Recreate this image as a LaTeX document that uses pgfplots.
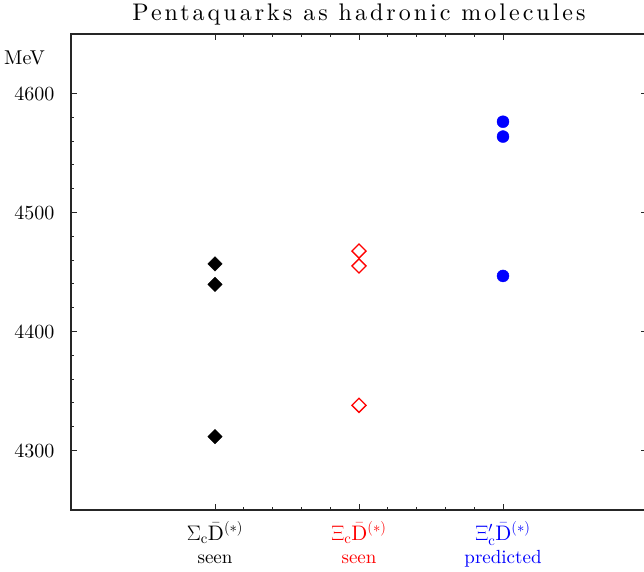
\RequirePackage{fix-cm}
\documentclass[border=0pt]{standalone}
\usepackage{fontspec}
\setmainfont{lmroman10-regular}[Extension=.otf]
\usepackage{pgfplots}
\pgfplotsset{compat=1.18}

\begin{document}
\begin{tikzpicture}
\begin{axis}[
  scale only axis, width=576pt, height=476pt,
  xmin=0, xmax=4, ymin=4250, ymax=4650,
  xtick={1,2,3}, minor x tick num=4,
  ytick={4300,4400,4500,4600}, minor y tick num=4,
  ytick pos=left,
  tick align=inside,
  major tick length=6pt, minor tick length=3pt,
  axis line style={black!85, line width=1.1pt},
  every tick/.append style={black!85, line width=0.9pt},
  /pgf/number format/assume math mode=true,
  /pgf/number format/1000 sep={},
  yticklabel style={font=\fontsize{20}{22}\selectfont, xshift=-13pt},
  xticklabel style={font=\fontsize{21}{22}\selectfont, align=center, yshift=-8pt},
  xticklabels={
    {$\Sigma_{\mathrm{c}}\bar{\mathrm{D}}^{(*)}$\\[1pt]{\fontsize{19}{19}\selectfont seen}},
    {\textcolor{red}{$\Xi_{\mathrm{c}}\bar{\mathrm{D}}^{(*)}$}\\[1pt]{\fontsize{19}{19}\selectfont\textcolor{red}{seen}}},
    {\textcolor{blue}{$\Xi'_{\mathrm{c}}\bar{\mathrm{D}}^{(*)}$}\\[1pt]{\fontsize{19}{19}\selectfont\textcolor{blue}{predicted}}}
  },
  clip=false,
]
\addplot[only marks, mark=square*, mark size=5.1pt,
  mark options={rotate=45, fill=black, draw=black}]
  coordinates {(1,4456.8) (1,4439.6) (1,4311.7)};
\addplot[only marks, mark=square, mark size=5pt,
  mark options={rotate=45, draw=red, line width=1.3pt}]
  coordinates {(2,4467.6) (2,4455.1) (2,4338.0)};
\addplot[only marks, mark=*, mark size=6pt,
  mark options={fill=blue, draw=blue}]
  coordinates {(3,4576.3) (3,4563.8) (3,4446.7)};

\node[anchor=base, font=\fontsize{24}{26}\selectfont\addfontfeature{LetterSpace=12.5}]
  at (rel axis cs:0.5,1) [yshift=14pt] {Pentaquarks as hadronic molecules};
\node[anchor=base east, inner sep=0pt, font=\fontsize{20}{22}\selectfont]
  at (axis cs:0,4624) [xshift=-26pt] {MeV};
\end{axis}
% right-hand axis: major ticks only
\begin{axis}[
  scale only axis, width=576pt, height=476pt,
  xmin=0, xmax=4, ymin=4250, ymax=4650,
  axis x line=none, axis y line*=right,
  ytick={4300,4400,4500,4600}, yticklabels={},
  minor y tick num=0, tick align=inside,
  major tick length=6pt,
  axis line style={black!85, line width=1.1pt},
  every tick/.append style={black!85, line width=0.9pt},
]
\end{axis}
\pgfresetboundingbox
\path[use as bounding box] (-71pt,-61pt) rectangle (573pt,510pt);
\end{tikzpicture}
\end{document}
